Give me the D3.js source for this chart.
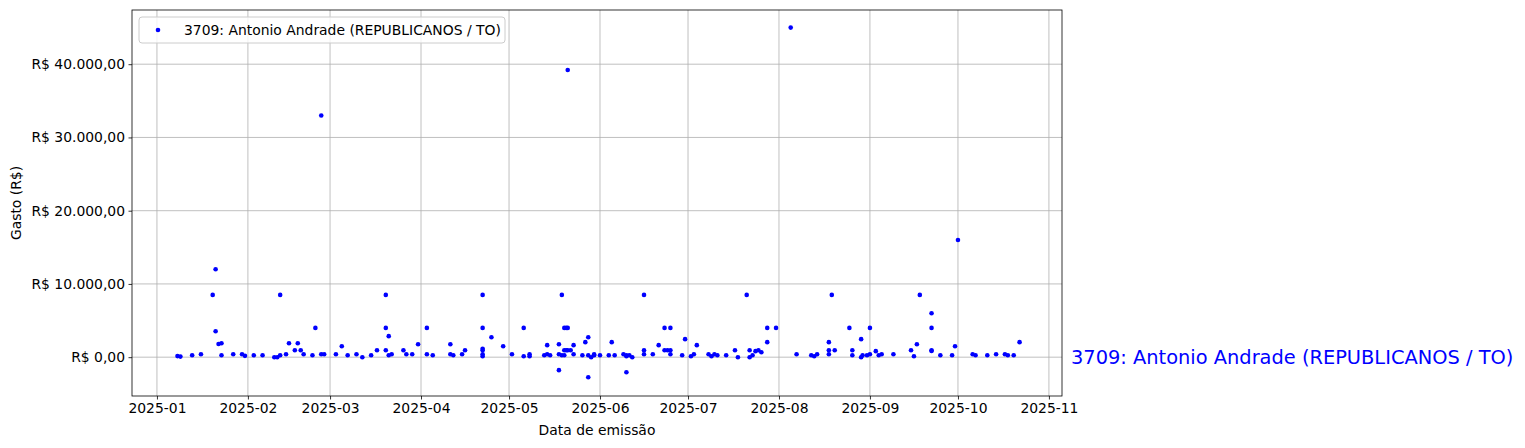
<!DOCTYPE html>
<html>
<head>
<meta charset="utf-8">
<script src="https://cdn.jsdelivr.net/npm/d3@7"></script>
<style>
  html, body { margin: 0; padding: 0; background: #fff; }
  svg { display: block; font-family: "DejaVu Sans", sans-serif; }
</style>
</head>
<body>
<svg id="chart" width="1525" height="448"></svg>
<script>
// ---- data ----
const seriesName = "3709: Antonio Andrade (REPUBLICANOS / TO)";
const dates = [
  "2025-01-08","2025-01-09","2025-01-13","2025-01-16","2025-01-20","2025-01-21","2025-01-21","2025-01-22","2025-01-23","2025-01-23",
  "2025-01-27","2025-01-30","2025-01-31","2025-02-03","2025-02-06","2025-02-10","2025-02-11","2025-02-12","2025-02-12","2025-02-14",
  "2025-02-15","2025-02-17","2025-02-18","2025-02-19","2025-02-20","2025-02-23","2025-02-24","2025-02-26","2025-02-26","2025-02-27",
  "2025-03-03","2025-03-05","2025-03-07","2025-03-10","2025-03-12","2025-03-15","2025-03-17","2025-03-20","2025-03-20","2025-03-20",
  "2025-03-21","2025-03-21","2025-03-22","2025-03-26","2025-03-27","2025-03-29","2025-03-31","2025-04-03","2025-04-03","2025-04-05",
  "2025-04-11","2025-04-11","2025-04-12","2025-04-15","2025-04-16","2025-04-22","2025-04-22","2025-04-22","2025-04-22","2025-04-22",
  "2025-04-22","2025-04-25","2025-04-29","2025-05-02","2025-05-06","2025-05-06","2025-05-08","2025-05-08","2025-05-13","2025-05-14",
  "2025-05-14","2025-05-15","2025-05-18","2025-05-18","2025-05-18","2025-05-19","2025-05-19","2025-05-19T20","2025-05-19T20","2025-05-19T20",
  "2025-05-20T12","2025-05-20T12","2025-05-21","2025-05-21","2025-05-21","2025-05-22","2025-05-23","2025-05-23","2025-05-26","2025-05-27",
  "2025-05-28","2025-05-28","2025-05-28","2025-05-29","2025-05-30","2025-05-30","2025-06-01","2025-06-04","2025-06-05","2025-06-06",
  "2025-06-09","2025-06-10","2025-06-10","2025-06-10","2025-06-11","2025-06-12","2025-06-16","2025-06-16","2025-06-16","2025-06-19",
  "2025-06-21","2025-06-23","2025-06-23","2025-06-24","2025-06-25","2025-06-25","2025-06-25","2025-06-29","2025-06-30","2025-07-02",
  "2025-07-03","2025-07-04","2025-07-08","2025-07-09","2025-07-10","2025-07-11","2025-07-14","2025-07-17","2025-07-18","2025-07-21",
  "2025-07-22","2025-07-22","2025-07-23","2025-07-24","2025-07-25","2025-07-26","2025-07-28","2025-07-28","2025-07-31","2025-08-05",
  "2025-08-07","2025-08-12","2025-08-13","2025-08-14","2025-08-18","2025-08-18","2025-08-18","2025-08-19","2025-08-20","2025-08-25",
  "2025-08-26","2025-08-26","2025-08-29","2025-08-29","2025-08-29T12","2025-08-31","2025-09-01","2025-09-01","2025-09-03","2025-09-04",
  "2025-09-05","2025-09-09","2025-09-15","2025-09-16","2025-09-17","2025-09-18","2025-09-22","2025-09-22","2025-09-22","2025-09-22",
  "2025-09-25","2025-09-29","2025-09-30","2025-10-01","2025-10-06","2025-10-07","2025-10-11","2025-10-14","2025-10-17","2025-10-18",
  "2025-10-20","2025-10-22"
];
const values = [
  150,80,270,400,8500,12000,3550,1800,1900,270,
  400,400,180,270,270,0,0,8500,270,400,
  1900,950,1900,950,400,270,4000,400,33000,400,
  400,1500,270,400,0,270,950,8500,4000,950,
  2870,270,400,950,400,400,1770,4000,400,270,
  1770,400,270,400,950,8500,4000,950,1150,400,
  130,2730,1500,400,4000,130,130,400,270,400,
  1640,270,-1770,1770,400,8500,270,4000,950,270,
  4000,950,4000,950,39200,950,1640,400,270,2050,
  2730,-2730,270,0,270,400,270,270,2050,270,
  400,130,-2050,270,270,0,8500,950,400,400,
  1640,4000,950,950,400,4000,950,270,2460,130,
  400,1640,400,130,400,270,270,950,0,8500,
  950,0,270,820,950,680,4000,2050,4000,45000,
  400,270,130,400,2050,950,400,8500,950,4000,
  950,270,2460,0,270,270,4000,400,820,270,
  400,400,950,130,1770,8500,6000,4000,950,850,
  270,270,1500,16000,400,270,270,400,400,270,
  270,2050
];
const yTickValues = [0, 10000, 20000, 30000, 40000];
const xTickLabels = ["2025-01","2025-02","2025-03","2025-04","2025-05","2025-06","2025-07","2025-08","2025-09","2025-10","2025-11"];
const xTitle = "Data de emissão";
const yTitle = "Gasto (R$)";

// ---- layout ----
const svg = d3.select("#chart");
const plot = { left: 132, right: 1062, top: 10, bottom: 396 };

const x = d3.scaleUtc()
  .domain([d3.isoParse("2024-12-23T12:00:00Z"), d3.isoParse("2025-11-05T11:00:00Z")])
  .range([plot.left, plot.right]);
const y = d3.scaleLinear()
  .domain([-5300, 47400])
  .range([plot.bottom, plot.top]);

const brl = d3.formatLocale({ decimal: ",", thousands: ".", grouping: [3], currency: ["R$ ", ""] });
const yFmt = brl.format("$,.2f");

const parseDate = s => d3.isoParse(s.length === 10 ? s + "T00:00:00Z" : s + ":00:00Z");
const points = dates.map((d, i) => ({ date: parseDate(d), value: values[i] }));
const xTicks = xTickLabels.map(s => parseDate(s + "-01"));

svg.append("rect").attr("width", 1525).attr("height", 448).attr("fill", "#fff");

// grid
const grid = svg.append("g");
grid.selectAll("line.vx").data(xTicks).join("line")
  .attr("x1", d => x(d)).attr("x2", d => x(d))
  .attr("y1", plot.top).attr("y2", plot.bottom)
  .attr("stroke", "#b0b0b0").attr("stroke-width", 0.8);
grid.selectAll("line.hy").data(yTickValues).join("line")
  .attr("x1", plot.left).attr("x2", plot.right)
  .attr("y1", d => y(d)).attr("y2", d => y(d))
  .attr("stroke", "#b0b0b0").attr("stroke-width", 0.8);

// axes
const xAxis = d3.axisBottom(x).tickValues(xTicks).tickFormat(d3.utcFormat("%Y-%m")).tickSize(3.5).tickPadding(3.5);
const yAxis = d3.axisLeft(y).tickValues(yTickValues).tickFormat(yFmt).tickSize(3.5).tickPadding(3.5);

const gx = svg.append("g").attr("transform", `translate(0,${plot.bottom})`).call(xAxis);
const gy = svg.append("g").attr("transform", `translate(${plot.left},0)`).call(yAxis);
[gx, gy].forEach(g => {
  g.select(".domain").remove();
  g.selectAll(".tick line").attr("stroke", "#000").attr("stroke-width", 0.8);
  g.selectAll(".tick text").attr("fill", "#000").style("font-size", "13.9px").style("font-family", "DejaVu Sans");
});

// points
svg.append("g").selectAll("circle").data(points).join("circle")
  .attr("cx", d => x(d.date)).attr("cy", d => y(d.value))
  .attr("r", 2.3).attr("fill", "#0000ff");

// frame
svg.append("rect")
  .attr("x", plot.left).attr("y", plot.top)
  .attr("width", plot.right - plot.left).attr("height", plot.bottom - plot.top)
  .attr("fill", "none").attr("stroke", "#000").attr("stroke-width", 0.8);

// axis titles
svg.append("text").attr("x", (plot.left + plot.right) / 2).attr("y", 435)
  .attr("text-anchor", "middle").style("font-size", "13.9px").text(xTitle);
svg.append("text").attr("transform", `translate(21,${(plot.top + plot.bottom) / 2}) rotate(-90)`)
  .attr("text-anchor", "middle").style("font-size", "13.9px").text(yTitle);

// legend
const lg = svg.append("g");
lg.append("rect").attr("x", 139).attr("y", 17).attr("width", 366).attr("height", 26)
  .attr("rx", 3).attr("fill", "#fff").attr("fill-opacity", 0.8)
  .attr("stroke", "#cccccc").attr("stroke-width", 1);
lg.append("circle").attr("cx", 158).attr("cy", 30).attr("r", 2.3).attr("fill", "#0000ff");
lg.append("text").attr("x", 184).attr("y", 35).style("font-size", "13.9px").text(seriesName);

// label at right end, aligned to value 0
svg.append("text").attr("x", 1071).attr("y", y(0)).attr("dy", "0.35em")
  .attr("fill", "#0000ff").style("font-size", "19.4px").text(seriesName);
</script>
</body>
</html>
